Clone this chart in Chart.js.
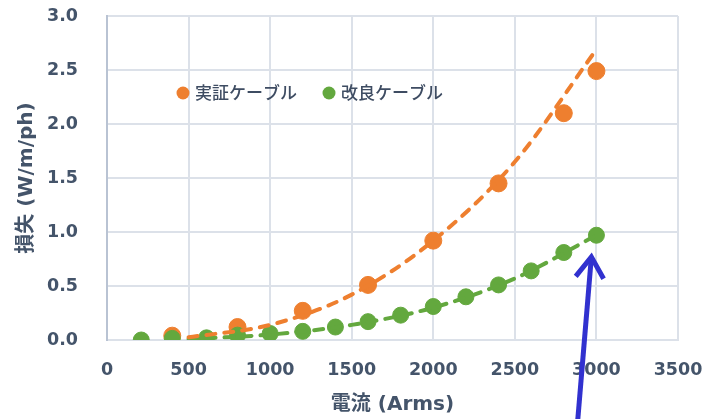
<!DOCTYPE html>
<html>
<head>
<meta charset="utf-8">
<script src="https://cdn.jsdelivr.net/npm/chart.js@4/dist/chart.umd.min.js"></script>
<style>
  html, body { margin: 0; padding: 0; background: #ffffff; }
  #wrap { width: 713px; height: 419px; position: relative; }
</style>
</head>
<body>
<div id="wrap"><canvas id="c" width="713" height="419"></canvas></div>
<script>
// Measured losses per phase (W/m/ph) against current (Arms)
const provenCurrent = [400, 800, 1200, 1600, 2000, 2400, 2800, 3000];
const provenLoss    = [0.04, 0.12, 0.27, 0.51, 0.92, 1.45, 2.10, 2.49];

const improvedCurrent = [210, 400, 610, 800, 1000, 1200, 1400, 1600, 1800, 2000, 2200, 2400, 2600, 2800, 3000];
const improvedLoss    = [0.00, 0.015, 0.02, 0.045, 0.06, 0.08, 0.12, 0.17, 0.23, 0.31, 0.40, 0.51, 0.64, 0.81, 0.97];

// Fitted trend curves (dashed)
const trendCurrent   = [500, 1000, 1500, 2000, 2500, 3000];
const provenTrend    = [0.025, 0.14, 0.42, 0.92, 1.65, 2.69];
const improvedTrend  = [0.01, 0.05, 0.14, 0.30, 0.57, 0.97];

// Series names
const seriesNames = ['実証ケーブル', '改良ケーブル'];

// Axis ranges and tick steps
const xTicks = [0, 500, 1000, 1500, 2000, 2500, 3000, 3500];
const yTicks = [0.0, 0.5, 1.0, 1.5, 2.0, 2.5, 3.0];

// Callout arrow, in data units: tail and tip
const arrowTail = [2885, -0.75];
const arrowTip  = [2969, 0.77];

const ORANGE = '#EE7F2F';
const GREEN  = '#63A83E';
const TEXT   = '#44546A';
const GRID   = '#DCE1E9';

const pairs = (xs, ys) => xs.map((x, i) => ({ x: x, y: ys[i] }));

const legendPlugin = {
  id: 'innerLegend',
  afterDraw(chart) {
    const ctx = chart.ctx;
    const area = chart.chartArea;
    const entries = chart.data.datasets.filter(d => d.showInLegend);
    let x = area.left + 76;
    const y = area.top + 77;
    ctx.save();
    ctx.font = '500 17px "Noto Sans CJK JP", sans-serif';
    ctx.textBaseline = 'middle';
    entries.forEach(d => {
      ctx.fillStyle = d.backgroundColor;
      ctx.beginPath();
      ctx.arc(x, y, 6.5, 0, Math.PI * 2);
      ctx.fill();
      ctx.fillStyle = '#3E4C62';
      ctx.fillText(d.label, x + 12, y);
      x += 146;
    });
    ctx.restore();
  }
};

const arrowPlugin = {
  id: 'calloutArrow',
  afterDraw(chart) {
    const xs = chart.scales.x, ys = chart.scales.y;
    const tx = xs.getPixelForValue(arrowTail[0]), ty = ys.getPixelForValue(arrowTail[1]);
    const hx = xs.getPixelForValue(arrowTip[0]),  hy = ys.getPixelForValue(arrowTip[1]);
    const ang = Math.atan2(ty - hy, tx - hx);
    const head = 25, spread = 34 * Math.PI / 180;
    const ctx = chart.ctx;
    ctx.save();
    ctx.strokeStyle = '#3131CF';
    ctx.lineWidth = 5;
    ctx.lineCap = 'butt';
    ctx.lineJoin = 'miter';
    ctx.beginPath();
    ctx.moveTo(tx, ty);
    ctx.lineTo(hx + Math.cos(ang) * 2, hy + Math.sin(ang) * 2);
    ctx.stroke();
    ctx.beginPath();
    ctx.moveTo(hx + Math.cos(ang - spread) * head, hy + Math.sin(ang - spread) * head);
    ctx.lineTo(hx, hy);
    ctx.lineTo(hx + Math.cos(ang + spread) * head, hy + Math.sin(ang + spread) * head);
    ctx.stroke();
    ctx.restore();
  }
};

const tickFont = { family: '"DejaVu Sans"', size: 17.5, weight: 'bold' };
const titleFont = { family: '"DejaVu Sans", "Noto Sans CJK JP"', size: 20, weight: 'bold' };

new Chart(document.getElementById('c'), {
  type: 'scatter',
  data: {
    datasets: [
      {
        label: seriesNames[0] + ' trend',
        type: 'line',
        data: pairs(trendCurrent, provenTrend),
        borderColor: ORANGE,
        borderWidth: 4,
        borderDash: [9, 9],
        borderCapStyle: 'round',
        pointRadius: 0,
        cubicInterpolationMode: 'monotone',
        fill: false,
        order: 0
      },
      {
        label: seriesNames[1] + ' trend',
        type: 'line',
        data: pairs(trendCurrent, improvedTrend),
        borderColor: GREEN,
        borderWidth: 4,
        borderDash: [9, 9],
        borderCapStyle: 'round',
        pointRadius: 0,
        cubicInterpolationMode: 'monotone',
        fill: false,
        order: 0
      },
      {
        label: seriesNames[0],
        showInLegend: true,
        data: pairs(provenCurrent, provenLoss),
        backgroundColor: ORANGE,
        borderColor: ORANGE,
        borderWidth: 1,
        pointRadius: 8.5,
        order: 2
      },
      {
        label: seriesNames[1],
        showInLegend: true,
        data: pairs(improvedCurrent, improvedLoss),
        backgroundColor: GREEN,
        borderColor: GREEN,
        borderWidth: 1,
        pointRadius: 8,
        order: 1
      }
    ]
  },
  options: {
    responsive: false,
    animation: false,
    layout: { padding: { left: 0, right: 35, top: 16, bottom: 0 } },
    plugins: {
      legend: { display: false },
      tooltip: { enabled: false }
    },
    scales: {
      x: {
        type: 'linear',
        min: xTicks[0],
        max: xTicks[xTicks.length - 1],
        afterBuildTicks: s => { s.ticks = xTicks.map(v => ({ value: v })); },
        afterFit: s => { s.height = 79; s.paddingLeft = 0; s.paddingRight = 0; },
        grid: { color: GRID, lineWidth: 2, drawTicks: false },
        border: { display: true, color: GRID, width: 2 },
        ticks: {
          padding: 20,
          color: TEXT,
          font: tickFont,
          callback: v => String(v)
        },
        title: {
          display: true,
          text: '電流 (Arms)',
          color: TEXT,
          padding: { top: 0, bottom: 2 },
          font: titleFont
        }
      },
      y: {
        type: 'linear',
        min: yTicks[0],
        max: yTicks[yTicks.length - 1],
        afterBuildTicks: s => { s.ticks = yTicks.map(v => ({ value: v })); },
        afterFit: s => { s.width = 107; s.paddingTop = 0; s.paddingBottom = 0; },
        grid: { color: GRID, lineWidth: 2, drawTicks: false },
        border: { display: true, color: '#B9C3D3', width: 2 },
        ticks: {
          padding: 29,
          color: TEXT,
          font: tickFont,
          callback: v => Number(v).toFixed(1)
        },
        title: {
          display: true,
          text: '損失 (W/m/ph)',
          color: TEXT,
          padding: { top: 15, bottom: 0 },
          font: titleFont
        }
      }
    }
  },
  plugins: [legendPlugin, arrowPlugin]
});
</script>
</body>
</html>
